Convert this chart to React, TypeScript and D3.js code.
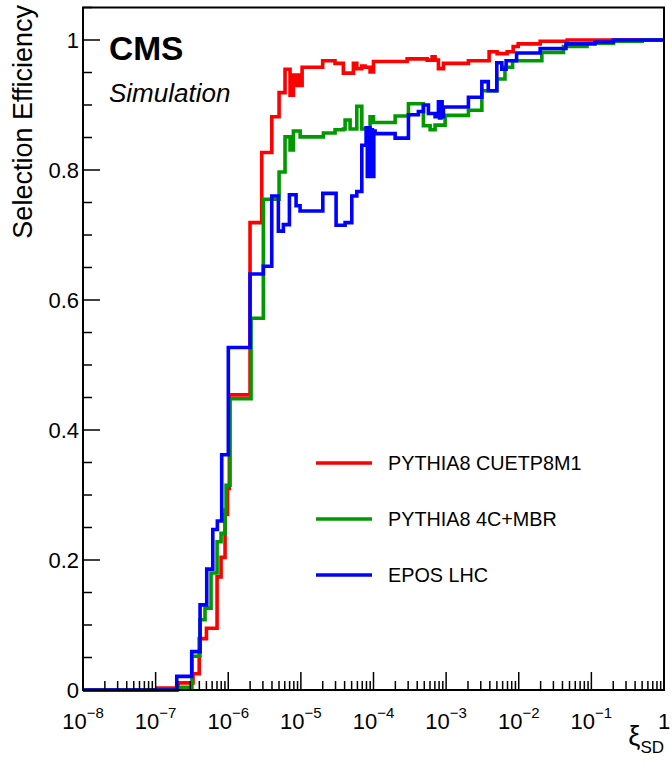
import React from "react";
import * as d3 from "d3";

// log10(ξ_SD) lower bin edges and efficiency values for each generator
const redEdges = [-8, -6.98, -6.69, -6.485, -6.4, -6.3, -6.154, -6.099, -6.044, -6.01, -5.985, -5.7, -5.539, -5.4, -5.3, -5.218, -5.149, -5.103, -5.07, -5.04, -5.01, -4.983, -4.7, -4.53, -4.415, -4.277, -4.23, -4.161, -4.116, -4.047, -4.0, -3.537, -3.262, -3.193, -3.152, -3.106, -3.037, -2.693, -2.408, -2.298, -2.16, -2.077, -2.008, -1.705, -1.333];
const redValues = [0, 0.003, 0.011, 0.025, 0.079, 0.095, 0.174, 0.204, 0.27, 0.31, 0.454, 0.719, 0.827, 0.882, 0.919, 0.955, 0.915, 0.946, 0.93, 0.946, 0.93, 0.958, 0.968, 0.964, 0.949, 0.964, 0.956, 0.96, 0.958, 0.951, 0.967, 0.971, 0.969, 0.974, 0.969, 0.956, 0.964, 0.968, 0.982, 0.979, 0.982, 0.99, 0.994, 0.998, 1.0];

const greenEdges = [-8, -6.7, -6.5, -6.39, -6.32, -6.237, -6.154, -6.099, -6.044, -6.03, -5.975, -5.686, -5.517, -5.3, -5.218, -5.149, -5.103, -5.01, -4.69, -4.529, -4.415, -4.391, -4.322, -4.23, -4.161, -4.047, -4.0, -3.702, -3.519, -3.313, -3.22, -3.152, -3.014, -2.693, -2.508, -2.302, -2.19, -2.085, -1.682, -1.384, -1.06, -0.696, -0.3];
const greenValues = [0, 0.004, 0.052, 0.108, 0.126, 0.18, 0.228, 0.241, 0.277, 0.315, 0.448, 0.572, 0.755, 0.797, 0.851, 0.831, 0.86, 0.851, 0.857, 0.862, 0.863, 0.877, 0.863, 0.898, 0.863, 0.882, 0.873, 0.883, 0.902, 0.868, 0.862, 0.869, 0.884, 0.892, 0.922, 0.94, 0.958, 0.968, 0.981, 0.99, 0.995, 0.998, 1.0];

const blueEdges = [-8, -6.709, -6.503, -6.388, -6.296, -6.213, -6.15, -6.09, -5.999, -5.7, -5.517, -5.401, -5.31, -5.241, -5.158, -5.066, -5.011, -4.698, -4.515, -4.391, -4.299, -4.23, -4.161, -4.102, -4.085, -4.068, -4.05, -4.033, -4.015, -3.996, -3.978, -3.702, -3.519, -3.382, -3.313, -3.244, -3.152, -3.106, -3.09, -3.07, -3.055, -3.037, -2.693, -2.508, -2.42, -2.302, -2.233, -2.174, -2.03, -1.705, -1.35, -0.95, -0.696];
const blueValues = [0, 0.021, 0.059, 0.131, 0.186, 0.247, 0.26, 0.362, 0.527, 0.64, 0.652, 0.76, 0.706, 0.716, 0.762, 0.745, 0.737, 0.764, 0.715, 0.719, 0.76, 0.767, 0.838, 0.865, 0.79, 0.865, 0.79, 0.862, 0.79, 0.86, 0.856, 0.849, 0.885, 0.89, 0.9, 0.887, 0.882, 0.905, 0.88, 0.905, 0.882, 0.897, 0.912, 0.936, 0.922, 0.965, 0.955, 0.968, 0.98, 0.987, 0.994, 0.997, 1.0];

const seriesNames = ["PYTHIA8 CUETP8M1", "PYTHIA8 4C+MBR", "EPOS LHC"];
const seriesColors = ["#ff0000", "#009900", "#0000ff"];
const yTickValues = [0, 0.2, 0.4, 0.6, 0.8, 1];
const yTickLabels = ["0", "0.2", "0.4", "0.6", "0.8", "1"];
const xDecades = [-8, -7, -6, -5, -4, -3, -2, -1, 0];

const W = 672, H = 766;
const L = 83, R = 664, T = 7.5, B = 690;

export default function App() {
  const x = d3.scaleLog().domain([1e-8, 1]).range([L, R]);
  const y = d3.scaleLinear().domain([0, 1.05]).range([B, T]);
  const line = d3
    .line<[number, number]>()
    .x((d) => x(d[0]))
    .y((d) => y(d[1]))
    .curve(d3.curveStepAfter);

  const series = [
    [redEdges, redValues],
    [greenEdges, greenValues],
    [blueEdges, blueValues],
  ].map(([e, v]) => {
    const pts: [number, number][] = e.map((ed, i) => [Math.pow(10, ed), v[i]]);
    pts.push([1, v[v.length - 1]]);
    return pts;
  });

  const minorX: number[] = [];
  for (let k = -8; k < 0; k++) for (let m = 2; m <= 9; m++) minorX.push(m * Math.pow(10, k));
  const minorY = d3.range(0, 1.0501, 0.05);

  const font = "Liberation Sans, Arial, sans-serif";

  return (
    <svg width={W} height={H} style={{ position: "absolute", left: 0, top: 0, background: "#fff" }} fontFamily={font}>
      <rect x={0} y={0} width={W} height={H} fill="#fff" />
      <defs>
        <clipPath id="clip">
          <rect x={L - 3} y={T} width={R - L + 3} height={B - T + 3} />
        </clipPath>
      </defs>
      {/* curves */}
      <g clipPath="url(#clip)">
        {series.map((pts, i) => (
          <path key={i} d={line(pts) || ""} fill="none" stroke={seriesColors[i]} strokeWidth={3.6} />
        ))}
      </g>
      {/* frame */}
      <rect x={L} y={T} width={R - L} height={B - T} fill="none" stroke="#000" strokeWidth={2} />
      {/* y ticks */}
      {minorY.map((v, i) => {
        const major = Math.abs(v * 5 - Math.round(v * 5)) < 1e-6;
        return <line key={"yt" + i} x1={L} x2={L + (major ? 17 : 9)} y1={y(v)} y2={y(v)} stroke="#000" strokeWidth={1.5} />;
      })}
      {yTickValues.map((v, i) => (
        <text key={"yl" + i} x={79} y={y(v)} dy="0.36em" textAnchor="end" fontSize={22}>
          {yTickLabels[i]}
        </text>
      ))}
      {/* x ticks */}
      {minorX.map((v, i) => (
        <line key={"xm" + i} x1={x(v)} x2={x(v)} y1={B} y2={B - 9} stroke="#000" strokeWidth={1.5} />
      ))}
      {xDecades.map((k) => (
        <line key={"xM" + k} x1={x(Math.pow(10, k))} x2={x(Math.pow(10, k))} y1={B} y2={B - 18} stroke="#000" strokeWidth={1.5} />
      ))}
      {xDecades.map((k) =>
        k === 0 ? (
          <text key={"xl" + k} x={x(1)} y={729} textAnchor="middle" fontSize={22}>1</text>
        ) : (
          <text key={"xl" + k} x={x(Math.pow(10, k))} y={729} textAnchor="middle" fontSize={22}>
            10<tspan fontSize={15} dy={-11}>{"\u2212" + Math.abs(k)}</tspan>
          </text>
        )
      )}
      {/* axis titles */}
      <text transform="translate(32,5) rotate(-90)" textAnchor="end" fontSize={27}>Selection Efficiency</text>
      <text x={R} y={745} textAnchor="end" fontSize={27}>
        ξ<tspan fontSize={17} dy={8}>SD</tspan>
      </text>
      {/* CMS label */}
      <text x={109} y={60} fontSize={33.5} fontWeight="bold">CMS</text>
      <text x={109} y={102} fontSize={26} fontStyle="italic">Simulation</text>
      {/* legend */}
      {seriesNames.map((n, i) => (
        <g key={"lg" + i}>
          <line x1={316} x2={372} y1={463 + i * 56} y2={463 + i * 56} stroke={seriesColors[i]} strokeWidth={3.6} />
          <text x={388} y={463 + i * 56 + 7} fontSize={19.8}>{n}</text>
        </g>
      ))}
    </svg>
  );
}
